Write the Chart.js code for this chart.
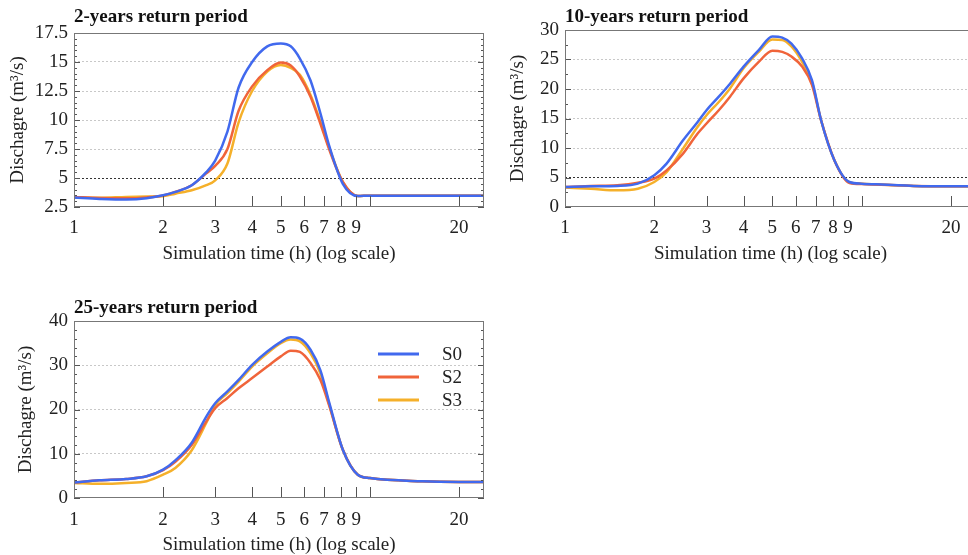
<!DOCTYPE html>
<html>
<head>
<meta charset="utf-8">
<title>Discharge S0 S2 S3</title>
<script src="https://cdn.jsdelivr.net/npm/chart.js@4/dist/chart.umd.min.js"></script>
<style>
  html, body { margin: 0; padding: 0; background: #fff; }
  body { width: 968px; height: 555px; overflow: hidden; position: relative; }
  .panel { position: absolute; }
</style>
</head>
<body>
<div class="panel" style="left:0;top:0"><canvas id="c2" width="490" height="270"></canvas></div>
<div class="panel" style="left:490px;top:0"><canvas id="c10" width="500" height="270"></canvas></div>
<div class="panel" style="left:0;top:290px"><canvas id="c25" width="490" height="268"></canvas></div>
<script>
/* время моделирования, ч (общая ось для всех трёх графиков) */
var times = [1, 1.22, 1.5, 1.76, 2, 2.2, 2.5, 2.8, 3, 3.3, 3.6, 4, 4.5, 5, 5.4, 5.8, 6.3, 6.8, 7.3, 8.1, 9.1, 10, 15, 20, 25];

/* 2 года */
var s0_2 = [3.31, 3.2, 3.14, 3.25, 3.51, 3.8, 4.38, 5.5, 6.5, 9.0, 12.8, 15.0, 16.35, 16.6, 16.35, 15.3, 13.4, 10.6, 7.7, 4.5, 3.45, 3.48, 3.48, 3.48, 3.48];
var s2_2 = [3.37, 3.28, 3.25, 3.33, 3.5, 3.8, 4.38, 5.4, 6.05, 7.5, 10.8, 12.9, 14.3, 14.95, 14.7, 13.75, 12.0, 9.7, 7.4, 4.66, 3.45, 3.48, 3.48, 3.48, 3.48];
var s3_2 = [3.3, 3.3, 3.37, 3.4, 3.43, 3.65, 3.94, 4.38, 4.8, 6.25, 9.8, 12.5, 14.18, 14.75, 14.5, 13.9, 12.16, 9.86, 7.55, 4.66, 3.45, 3.48, 3.48, 3.48, 3.48];

/* 10 лет */
var s0_10 = [3.4, 3.5, 3.57, 3.96, 5.4, 7.36, 11.3, 14.4, 16.4, 18.7, 20.9, 23.8, 26.6, 28.9, 28.7, 27.7, 25.2, 21.5, 14.7, 7.9, 4.24, 3.96, 3.57, 3.5, 3.5];
var s2_10 = [3.4, 3.55, 3.68, 4.1, 4.8, 6.2, 9.05, 12.45, 14.15, 16.4, 18.7, 21.8, 24.6, 26.5, 26.3, 25.5, 23.8, 20.7, 14.7, 7.9, 4.07, 3.9, 3.57, 3.5, 3.5];
var s3_10 = [3.3, 3.1, 2.83, 3.1, 4.24, 5.9, 9.9, 13.6, 15.56, 17.8, 20.1, 23.5, 26.3, 28.4, 28.3, 27.2, 24.6, 21.2, 14.7, 7.9, 4.2, 3.96, 3.57, 3.5, 3.5];

/* 25 лет */
var s0_25 = [3.53, 4.0, 4.3, 4.9, 6.4, 8.5, 12.5, 18.4, 21.4, 24.1, 26.7, 30.1, 33.1, 35.3, 36.3, 36.0, 33.5, 28.9, 21.4, 10.9, 5.26, 4.5, 3.76, 3.6, 3.6];
var s2_25 = [3.53, 4.0, 4.3, 4.9, 6.3, 8.2, 12.0, 17.3, 20.3, 22.6, 24.8, 27.1, 29.7, 32.0, 33.3, 33.0, 30.5, 26.7, 20.7, 10.9, 5.26, 4.5, 3.76, 3.6, 3.6];
var s3_25 = [3.4, 3.2, 3.4, 3.8, 5.26, 6.8, 10.8, 17.0, 21.0, 23.7, 26.3, 29.7, 32.7, 35.0, 35.8, 35.4, 32.7, 28.2, 21.0, 10.9, 5.26, 4.5, 3.76, 3.6, 3.6];

/* подписи и деления */
var seriesNames = ['S0', 'S2', 'S3'];
var xTicks = [1, 2, 3, 4, 5, 6, 7, 8, 9, 10, 20];
var xTitle = 'Simulation time (h) (log scale)';
var yTitle = 'Dischagre (m\u00B3/s)';

var colors = ['#4169ee', '#f0643a', '#f5b02a'];

Chart.defaults.font.family = "'Liberation Serif', 'Times New Roman', serif";
Chart.defaults.font.size = 19;
Chart.defaults.color = '#222';

function pts(ys) {
    return times.map(function (t, i) { return { x: t, y: ys[i] }; });
}

// рамка и внутренние засечки
var frameTicks = {
    id: 'frameTicks',
    afterDraw: function (chart, args, opts) {
        var ctx = chart.ctx, a = chart.chartArea;
        var xs = chart.scales.x, ys = chart.scales.y;
        ctx.save();
        ctx.strokeStyle = '#555';
        ctx.lineWidth = 1;
        xTicks.forEach(function (v) {
            var px = Math.round(xs.getPixelForValue(v)) + 0.5;
            ctx.beginPath();
            ctx.moveTo(px, a.bottom);
            ctx.lineTo(px, a.bottom - 11);
            ctx.stroke();
        });
        var n = Math.round((ys.max - ys.min) / opts.minor);
        for (var i = 0; i <= n; i++) {
            var v = ys.min + i * opts.minor;
            var k = (v - ys.min) / opts.major;
            var len = Math.abs(k - Math.round(k)) < 1e-6 ? 6 : 3;
            var py = Math.round(ys.getPixelForValue(v)) + 0.5;
            ctx.beginPath();
            ctx.moveTo(a.left, py); ctx.lineTo(a.left + len, py);
            ctx.moveTo(a.right, py); ctx.lineTo(a.right - len, py);
            ctx.stroke();
        }
        ctx.strokeStyle = '#777';
        ctx.strokeRect(a.left + 0.5, a.top + 0.5, a.right - a.left - 1, a.bottom - a.top - 1);
        ctx.restore();
    }
};

// легенда внутри третьего графика
var innerLegend = {
    id: 'innerLegend',
    afterDraw: function (chart, args, opts) {
        if (!opts.show) return;
        var ctx = chart.ctx, a = chart.chartArea;
        ctx.save();
        ctx.font = "19px 'Liberation Serif', 'Times New Roman', serif";
        ctx.textBaseline = 'middle';
        ctx.fillStyle = '#222';
        chart.data.datasets.forEach(function (ds, i) {
            var y = a.top + 33 + i * 23;
            ctx.strokeStyle = ds.borderColor;
            ctx.lineWidth = 3;
            ctx.beginPath();
            ctx.moveTo(a.right - 106, y);
            ctx.lineTo(a.right - 65, y);
            ctx.stroke();
            ctx.fillText(ds.label, a.right - 42, y + 1);
        });
        ctx.restore();
    }
};

function makeChart(id, o) {
    return new Chart(document.getElementById(id), {
        type: 'line',
        data: {
            datasets: [o.s0, o.s2, o.s3].map(function (arr, i) {
                return {
                    label: seriesNames[i],
                    data: pts(arr),
                    borderColor: colors[i],
                    borderWidth: 2.5,
                    pointRadius: 0,
                    fill: false,
                    cubicInterpolationMode: 'monotone'
                };
            })
        },
        options: {
            responsive: false,
            animation: false,
            events: [],
            layout: { padding: { right: o.padRight } },
            plugins: {
                legend: { display: false },
                tooltip: { enabled: false },
                title: {
                    display: true,
                    text: o.title,
                    align: 'start',
                    fullSize: false,
                    color: '#111',
                    font: { size: 19, weight: 'bold' },
                    padding: { top: o.titleTop, bottom: o.titleBottom }
                },
                frameTicks: { minor: o.minor, major: o.step },
                innerLegend: { show: !!o.legend }
            },
            scales: {
                x: {
                    type: 'logarithmic',
                    min: 1,
                    max: 24.3,
                    grid: { display: false },
                    border: { display: false },
                    afterBuildTicks: function (s) {
                        s.ticks = xTicks.map(function (v) { return { value: v }; });
                    },
                    afterFit: function (s) { s.height = o.xHeight; },
                    ticks: {
                        autoSkip: false,
                        maxRotation: 0,
                        minRotation: 0,
                        padding: o.xTickPad,
                        callback: function (v) { return v === 10 ? '' : String(v); }
                    },
                    title: { display: true, text: xTitle, padding: { top: 0, bottom: o.xTitlePad } }
                },
                y: {
                    min: o.min,
                    max: o.max,
                    afterFit: function (s) { s.width = o.yWidth; },
                    ticks: { stepSize: o.step, padding: 6 },
                    grid: {
                        drawTicks: false,
                        color: function (c) {
                            var v = c.tick.value;
                            if (v === o.min || v === o.max) return 'rgba(0,0,0,0)';
                            return (v === 5 && o.darkFive) ? '#333' : '#c8c8c8';
                        }
                    },
                    border: { display: false, dash: [2, 2] },
                    title: { display: true, text: yTitle, padding: { top: o.yTitlePad, bottom: 0 } }
                }
            }
        },
        plugins: [frameTicks, innerLegend]
    });
}

makeChart('c2', {
    title: '2-years return period', s0: s0_2, s2: s2_2, s3: s3_2,
    min: 2.5, max: 17.5, step: 2.5, minor: 0.5, darkFive: true,
    yWidth: 74, xHeight: 63, padRight: 6, titleTop: 5.6, titleBottom: 4.6,
    xTickPad: 2, xTitlePad: 5, yTitlePad: 7
});

makeChart('c10', {
    title: '10-years return period', s0: s0_10, s2: s2_10, s3: s3_10,
    min: 0, max: 30, step: 5, minor: 2.5, darkFive: true,
    yWidth: 75, xHeight: 63, padRight: 14, titleTop: 5.6, titleBottom: 1.6,
    xTickPad: 2, xTitlePad: 5, yTitlePad: 17
});

makeChart('c25', {
    title: '25-years return period', s0: s0_25, s2: s2_25, s3: s3_25,
    min: 0, max: 40, step: 10, minor: 2, darkFive: false,
    yWidth: 74, xHeight: 60, padRight: 6, titleTop: 6.6, titleBottom: 1.6,
    xTickPad: 3, xTitlePad: 1.5, yTitlePad: 15, legend: true
});
</script>
</body>
</html>
